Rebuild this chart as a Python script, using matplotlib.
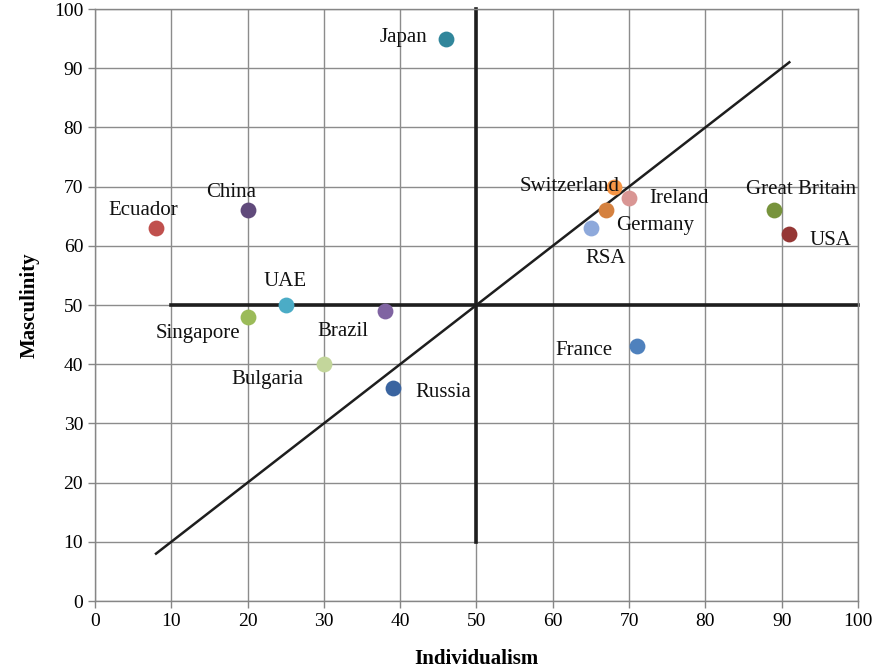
import matplotlib
matplotlib.use("Agg")
import matplotlib.pyplot as plt

countries = ["Japan", "China", "Ecuador", "UAE", "Singapore", "Brazil", "Bulgaria",
             "Russia", "Switzerland", "Ireland", "Germany", "RSA", "Great Britain",
             "USA", "France"]
individualism = [46, 20, 8, 25, 20, 38, 30, 39, 68, 70, 67, 65, 89, 91, 71]
masculinity = [95, 66, 63, 50, 48, 49, 40, 36, 70, 68, 66, 63, 66, 62, 43]
colors = ["#31869B", "#604A7B", "#C0504D", "#4BACC6", "#9BBB59", "#8064A2", "#C3D69B",
          "#3A64A0", "#F79646", "#D99694", "#D5813F", "#8EA9DB", "#77933C",
          "#953735", "#4F81BD"]
# label offsets in pixels (dx, dy) and horizontal alignment
label_offsets = [(-19, 1, "right"), (-16, 18, "center"), (-13, 18, "center"),
                 (-1, 23, "center"), (-50, -17, "center"), (-42, -21, "center"),
                 (-57, -15, "center"), (51, -5, "center"), (-44, 0, "center"),
                 (50, 0, "center"), (49, -15, "center"), (15, -30, "center"),
                 (27, 21, "center"), (41, -7, "center"), (-53, -4, "center")]

x_ticks = list(range(0, 101, 10))
y_ticks = list(range(0, 101, 10))

plt.rcParams['font.family'] = ['Liberation Serif', 'DejaVu Serif']

fig = plt.figure(figsize=(8.76, 6.71), dpi=100)
ax = fig.add_axes([95 / 876, 70 / 671, 763 / 876, 592 / 671])
ax.set_xlim(0, 100)
ax.set_ylim(0, 100)
ax.set_xticks(x_ticks)
ax.set_yticks(y_ticks)
ax.tick_params(labelsize=14, direction="out", length=5, color="#868686", width=1)
ax.grid(True, color="#8C8C8C", linewidth=1.0)
ax.set_axisbelow(True)
for s in ax.spines.values():
    s.set_color("#868686")
    s.set_linewidth(1.0)

# reference lines
ax.plot([50, 50], [10, 100], color="#1E1E1E", linewidth=2.6, zorder=2, clip_on=False)
ax.plot([10, 100], [50, 50], color="#1E1E1E", linewidth=2.6, zorder=2, clip_on=False)
ax.plot([8, 91], [8, 91], color="#1E1E1E", linewidth=1.8, zorder=2)

for c, xv, yv, col, (dx, dy, ha) in zip(countries, individualism, masculinity, colors, label_offsets):
    ax.scatter([xv], [yv], s=130, color=col, zorder=3, linewidths=0)
    ax.annotate(c, (xv, yv), xytext=(dx, dy), textcoords="offset pixels",
                ha=ha, va="center", fontsize=15, color="#111111", zorder=4)

ax.set_xlabel("Individualism", fontsize=15, fontweight="bold", labelpad=14)
ax.set_ylabel("Masculinity", fontsize=15, fontweight="bold", labelpad=10)

fig.savefig("out.png", dpi=100)
